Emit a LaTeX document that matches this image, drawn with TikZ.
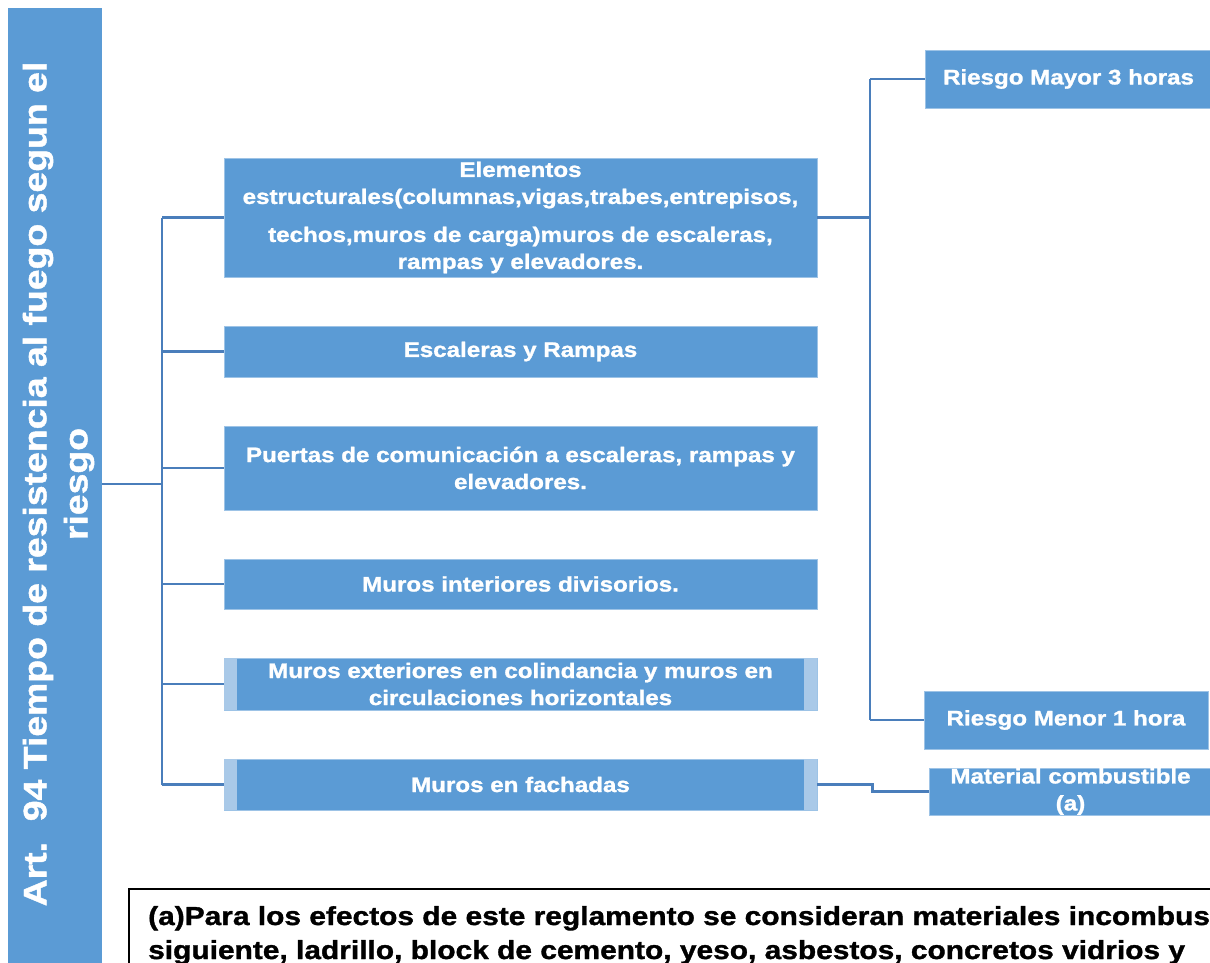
\documentclass[tikz,border=0pt]{standalone}
\usepackage{fontspec}
\newfontfamily\bx{Liberation Sans}[FakeStretch=1.15, BoldFeatures={FakeBold=1.3}]
\definecolor{boxblue}{HTML}{5B9BD5}
\definecolor{boxedge}{HTML}{9DC3E6}
\definecolor{conncol}{HTML}{4A7EBB}
\definecolor{stripcol}{HTML}{A9C9E8}
\tikzset{
  box/.style={fill=boxblue, draw=boxedge, line width=0.8pt, text=white, align=center, inner sep=0pt,
    font=\bx\bfseries\fontsize{21}{27}\selectfont},
  conn/.style={draw=conncol, line width=2.2pt},
  strip/.style={fill=stripcol},
}
\begin{document}
\begin{tikzpicture}[x=1pt,y=-1pt]
\useasboundingbox (0,0) rectangle (1210,963);
\clip (0,0) rectangle (1210,963);
% title bar
\node[fill=boxblue, minimum width=94pt, minimum height=976pt, inner sep=0pt] (bar) at (55,496) {};
\node[rotate=90, text=white, align=center, inner sep=0pt, font=\bx\bfseries\fontsize{32.5}{41}\selectfont] (title) at (58.5,484)
  {Art.~~94 Tiempo de resistencia al fuego segun el\\riesgo};
% left column boxes
\node[box, minimum width=593pt, minimum height=119pt] (b1) at (520.5,217.5)
  {Elementos\\estructurales(columnas,vigas,trabes,entrepisos,\\[11pt]techos,muros de carga)muros de escaleras,\\rampas y elevadores.};
\node[box, minimum width=593pt, minimum height=51pt] (b2) at (520.5,351.5) {Escaleras y Rampas};
\node[box, minimum width=593pt, minimum height=84pt] (b3) at (520.5,468) {Puertas de comunicación a escaleras, rampas y\\elevadores.};
\node[box, minimum width=593pt, minimum height=50pt] (b4) at (520.5,584) {Muros interiores divisorios.};
\node[box, minimum width=593pt, minimum height=52pt] (b5) at (520.5,684) {};
\fill[strip] (b5.north west) rectangle ([xshift=13pt]b5.south west);
\fill[strip] ([xshift=-13pt]b5.north east) rectangle (b5.south east);
\node[text=white, align=center, inner sep=0pt, font=\bx\bfseries\fontsize{21}{27}\selectfont] (t5) at (b5.center)
  {Muros exteriores en colindancia y muros en\\circulaciones horizontales};
\node[box, minimum width=593pt, minimum height=51pt] (b6) at (520.5,784.5) {};
\fill[strip] (b6.north west) rectangle ([xshift=13pt]b6.south west);
\fill[strip] ([xshift=-13pt]b6.north east) rectangle (b6.south east);
\node[text=white, inner sep=0pt, font=\bx\bfseries\fontsize{21}{27}\selectfont] (t6) at (b6.center) {Muros en fachadas};
% right boxes
\node[box, minimum width=287pt, minimum height=58pt] (rmay) at (1068.5,79) {Riesgo Mayor 3 horas};
\node[box, minimum width=284pt, minimum height=58pt] (rmen) at (1066,720) {Riesgo Menor 1 hora};
\node[box, minimum width=283pt, minimum height=47pt] (mat) at (1070.5,791.5) {Material combustible\\(a)};
% connectors
\coordinate (hub) at (162,484);
\draw[conn] (bar.east |- hub) -- (hub);
\draw[conn] (hub |- b1.west) -- (hub |- b6.west);
\foreach \b in {b1,b2,b3,b4,b5,b6} \draw[conn] (hub |- \b.west) -- (\b.west);
\coordinate (rhub) at (870,217.5);
\draw[conn] (b1.east) -- (rhub);
\draw[conn] (rhub |- rmay.west) -- (rhub |- rmen.west);
\draw[conn] (rhub |- rmay.west) -- (rmay.west);
\draw[conn] (rhub |- rmen.west) -- (rmen.west);
\draw[conn] (b6.east) -- ++(55,0) |- (mat.west);
% note
\draw[line width=2pt] (129,889) rectangle (1400,1000);
\node[anchor=base west, inner sep=0pt, font=\bx\bfseries\fontsize{26}{30}\selectfont] (n1) at (148,925)
  {(a)Para los efectos de este reglamento se consideran materiales incombustibles};
\node[anchor=base west, inner sep=0pt, font=\bx\bfseries\fontsize{26}{30}\selectfont] (n2) at (148,959)
  {siguiente, ladrillo, block de cemento, yeso, asbestos, concretos vidrios y};
\end{tikzpicture}
\end{document}
